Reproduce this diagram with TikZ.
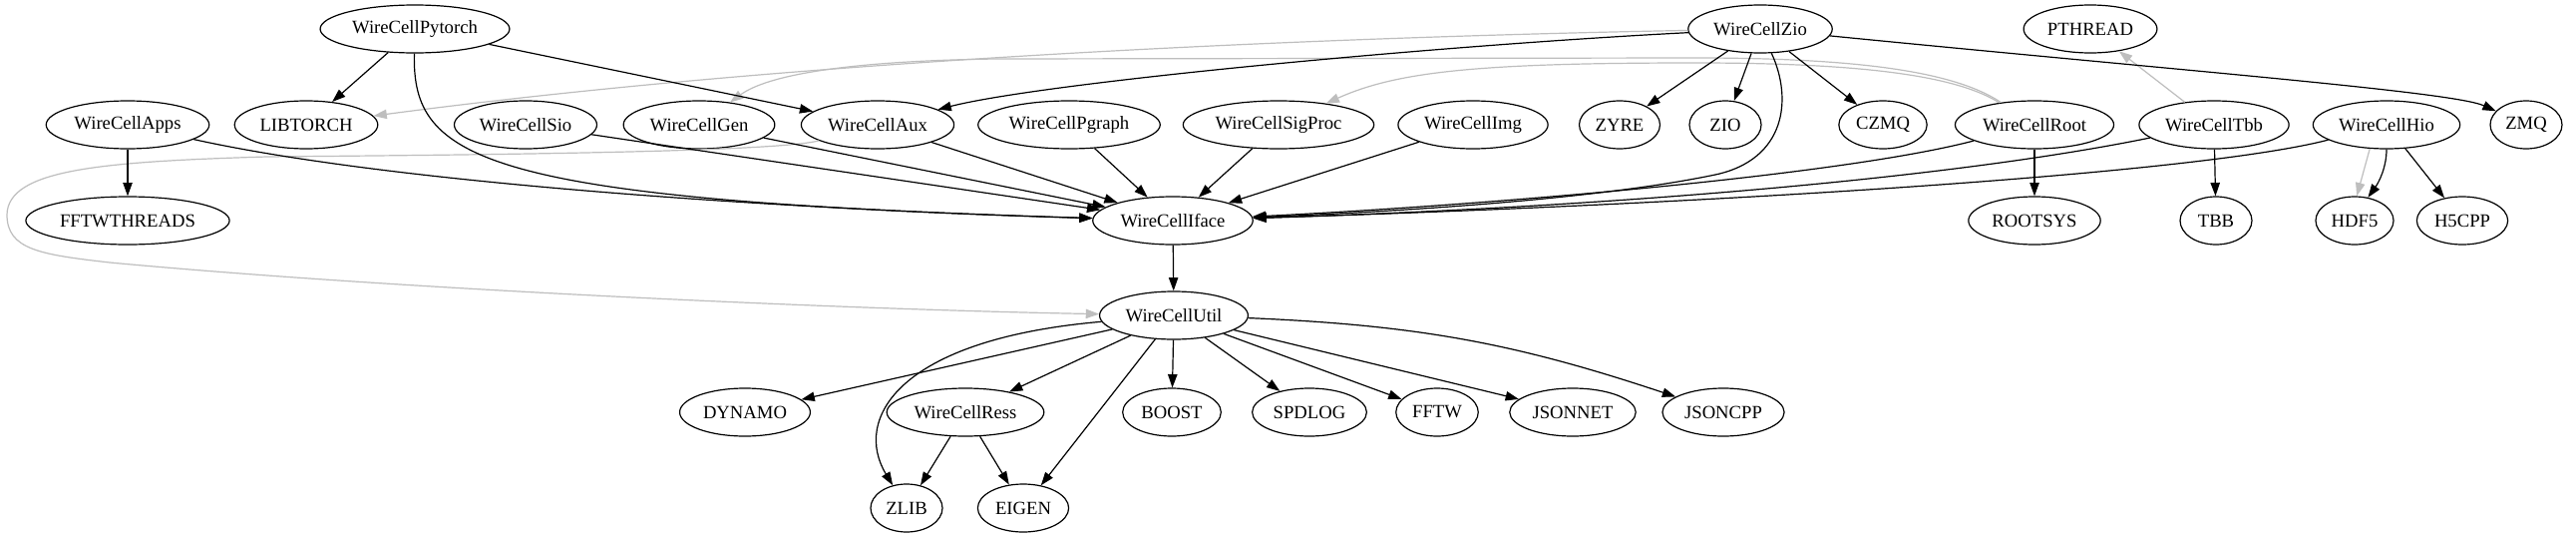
\documentclass[tikz,border=0pt]{standalone}
\usepackage{fontspec}
\setmainfont{Liberation Serif}
\usetikzlibrary{shapes.geometric,arrows.meta}
\definecolor{edgegray}{HTML}{BEBEBE}
\begin{document}
\begin{tikzpicture}[x=0.75pt,y=-0.75pt,
  nd/.style={ellipse, draw, line width=0.9pt, inner xsep=3.2pt, inner ysep=2pt,
    minimum height=36pt, minimum width=54pt, font=\fontsize{14}{16}\selectfont},
  ed/.style={-{Triangle[length=10pt,width=7pt]}, line width=0.9pt, draw=black},
  ge/.style={-{Triangle[length=10pt,width=7pt]}, line width=0.9pt, draw=edgegray}]
\fill[white] (0,0) rectangle (2583,539);
\useasboundingbox (0,0) rectangle (2583,539);
% row 1
\node[nd] (Pytorch) at (416,29) {WireCellPytorch};
\node[nd] (Zio) at (1765,29) {WireCellZio};
\node[nd] (PTHREAD) at (2096,29) {PTHREAD};
% row 2
\node[nd] (Apps) at (128,125) {WireCellApps};
\node[nd] (LIBTORCH) at (307,125) {LIBTORCH};
\node[nd] (Sio) at (527,125) {WireCellSio};
\node[nd] (Gen) at (701,125) {WireCellGen};
\node[nd] (Aux) at (880,125) {WireCellAux};
\node[nd] (Pgraph) at (1072,125) {WireCellPgraph};
\node[nd] (SigProc) at (1282,125) {WireCellSigProc};
\node[nd] (Img) at (1477,125) {WireCellImg};
\node[nd] (ZYRE) at (1624,125) {ZYRE};
\node[nd] (ZIO) at (1730,125) {ZIO};
\node[nd] (CZMQ) at (1888,125) {CZMQ};
\node[nd] (Root) at (2040,125) {WireCellRoot};
\node[nd] (Tbb) at (2220,125) {WireCellTbb};
\node[nd] (Hio) at (2393,125) {WireCellHio};
\node[nd] (ZMQ) at (2533,125) {ZMQ};
% row 3
\node[nd] (FFTWTHREADS) at (128,221) {FFTWTHREADS};
\node[nd] (Iface) at (1176,221) {WireCellIface};
\node[nd] (ROOTSYS) at (2040,221) {ROOTSYS};
\node[nd] (TBB) at (2222,221) {TBB};
\node[nd] (HDF5) at (2361,221) {HDF5};
\node[nd] (H5CPP) at (2469,221) {H5CPP};
% row 4
\node[nd] (Util) at (1177,316) {WireCellUtil};
% row 5
\node[nd] (DYNAMO) at (747,413) {DYNAMO};
\node[nd] (Ress) at (968,413) {WireCellRess};
\node[nd] (BOOST) at (1175,413) {BOOST};
\node[nd] (SPDLOG) at (1313,413) {SPDLOG};
\node[nd] (FFTW) at (1441,413) {FFTW};
\node[nd] (JSONNET) at (1577,413) {JSONNET};
\node[nd] (JSONCPP) at (1728,413) {JSONCPP};
% row 6
\node[nd] (ZLIB) at (909,509) {ZLIB};
\node[nd] (EIGEN) at (1026,509) {EIGEN};

% grey edges
\draw[ge] (Zio) .. controls (1300,38) and (800,60) .. (LIBTORCH);
\draw[ge] (Root) .. controls (1965,75) and (1880,58) .. (1700,58) -- (1000,59) .. controls (850,61) and (770,75) .. (Gen);
\draw[ge] (Root) .. controls (1965,78) and (1880,63) .. (1700,63) .. controls (1480,63) and (1400,72) .. (SigProc);
\draw[ge] (Aux) .. controls (780,152) and (500,155) .. (268,157) .. controls (100,162) and (8,170) .. (7,215) .. controls (7,250) and (40,255) .. (110,263) .. controls (400,290) and (850,310) .. (Util);
\draw[ge] (Tbb) -- (PTHREAD);
\draw[ge] (Hio.235) -- (HDF5.85);

% black edges
\draw[ed] (Pytorch) -- (LIBTORCH);
\draw[ed] (Pytorch) -- (Aux);
\draw[ed] (Pytorch) .. controls (413,160) and (480,200) .. (Iface);
\draw[ed] (Apps) -- (FFTWTHREADS);
\draw[ed] (Apps) .. controls (400,185) and (800,210) .. (Iface);
\draw[ed] (Sio) -- (Iface);
\draw[ed] (Gen) -- (Iface);
\draw[ed] (Aux) -- (Iface);
\draw[ed] (Pgraph) -- (Iface);
\draw[ed] (SigProc) -- (Iface);
\draw[ed] (Img) -- (Iface);
\draw[ed] (Zio) .. controls (1450,45) and (1050,82) .. (Aux);
\draw[ed] (Zio) -- (ZYRE);
\draw[ed] (Zio) -- (ZIO);
\draw[ed] (Zio) -- (CZMQ);
\draw[ed] (Zio) .. controls (1798,100) and (1790,160) .. (1720,175) .. controls (1600,200) and (1400,212) .. (Iface);
\draw[ed] (Zio) .. controls (2200,72) and (2460,92) .. (ZMQ);
\draw[ed] (Root) .. controls (1850,175) and (1500,205) .. (Iface);
\draw[ed] (Root) -- (ROOTSYS);
\draw[ed] (Tbb) .. controls (1950,180) and (1600,208) .. (Iface);
\draw[ed] (Tbb) -- (TBB);
\draw[ed] (Hio) .. controls (2200,175) and (1700,205) .. (Iface);
\draw[ed] (Hio.south) .. controls (2393,168) and (2385,183) .. (HDF5.60);
\draw[ed] (Hio) -- (H5CPP);
\draw[ed] (Iface) -- (Util);
\draw[ed] (Util) -- (DYNAMO);
\draw[ed] (Util) -- (Ress);
\draw[ed] (Util) -- (BOOST);
\draw[ed] (Util) -- (SPDLOG);
\draw[ed] (Util) -- (FFTW);
\draw[ed] (Util) -- (JSONNET);
\draw[ed] (Util) to[bend left=8] (JSONCPP);
\draw[ed] (Util) .. controls (900,340) and (855,420) .. (ZLIB);
\draw[ed] (Util) -- (EIGEN);
\draw[ed] (Ress) -- (ZLIB);
\draw[ed] (Ress) -- (EIGEN);
\end{tikzpicture}
\end{document}
